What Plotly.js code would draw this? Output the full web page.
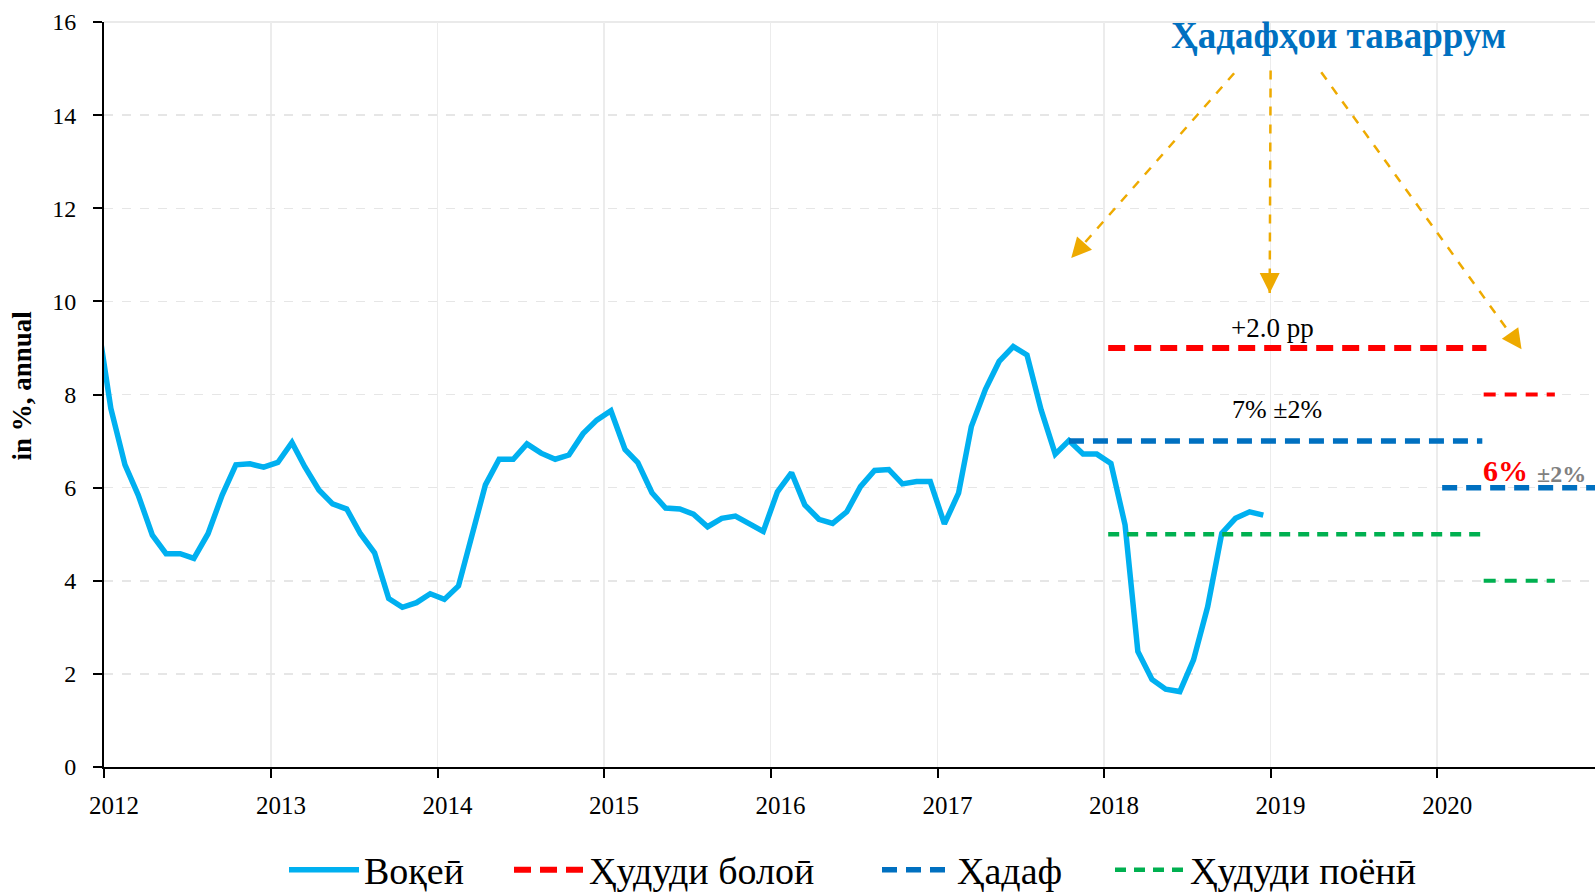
<!DOCTYPE html>
<html>
<head>
<meta charset="utf-8">
<script src="https://cdn.plot.ly/plotly-3.0.1.min.js"></script>
<style>html,body{margin:0;padding:0;background:#fff;}#chart{width:1595px;height:892px;}</style>
</head>
<body>
<div id="chart"></div>
<script>
// ---- data (monthly CPI inflation, % y/y) ----
const startYear = 2011, startMonth = 12;           // first observation: Dec 2011 (clipped by the axis)
const actualDec2011 = [9.7];
const actual2012 = [7.70, 6.49, 5.84, 4.98, 4.58, 4.58, 4.48, 5.01, 5.84, 6.49, 6.51, 6.44];
const actual2013 = [6.54, 6.97, 6.45, 5.95, 5.65, 5.54, 5.01, 4.60, 3.62, 3.43, 3.53, 3.72];
const actual2014 = [3.60, 3.89, 4.88, 6.06, 6.61, 6.61, 6.94, 6.74, 6.61, 6.70, 7.16, 7.45];
const actual2015 = [7.65, 6.82, 6.54, 5.89, 5.56, 5.54, 5.43, 5.16, 5.34, 5.39, 5.22, 5.06];
const actual2016 = [5.91, 6.32, 5.63, 5.32, 5.23, 5.48, 6.02, 6.37, 6.39, 6.08, 6.13, 6.13];
const actual2017 = [5.22, 5.88, 7.31, 8.11, 8.71, 9.03, 8.85, 7.67, 6.72, 7.01, 6.72, 6.72];
const actual2018 = [6.52, 5.20, 2.48, 1.88, 1.67, 1.62, 2.30, 3.44, 5.02, 5.34, 5.48, 5.41];

// target corridor segments
const upperX   = ['2018-01-10', '2020-04-18'], upperY   = [9, 9];
const upper2X  = ['2020-04-12', '2020-09-15'], upper2Y  = [8, 8];
const targetX  = ['2017-10-16', '2020-04-09'], targetY  = [7, 7];
const target2X = ['2020-01-12', '2021-01-31'], target2Y = [6, 6];
const lowerX   = ['2018-01-10', '2020-04-20'], lowerY   = [5, 5];
const lower2X  = ['2020-04-12', '2020-09-15'], lower2Y  = [4, 4];

const seriesNames = ['Воқеӣ', 'Ҳудуди болоӣ', 'Ҳадаф', 'Ҳудуди поёнӣ'];
const yTitle = 'in %, annual';
const headline = 'Ҳадафҳои таваррум';
const labelUpper = '+2.0 pp';
const labelTarget = '7% ±2%';
const labelNew = '6%';
const labelNewBand = '±2%';

// ---- build ----
const actualY = [].concat(actualDec2011, actual2012, actual2013, actual2014, actual2015, actual2016, actual2017, actual2018);
const actualX = actualY.map((v, i) => {
  const m0 = (startMonth - 1) + i;
  const y = startYear + Math.floor(m0 / 12);
  const m = (m0 % 12) + 1;
  return y + '-' + String(m).padStart(2, '0') + '-16';
});

const FONT = 'Liberation Serif, Times New Roman, serif';
const RED = '#FF0000', BLUE = '#0070C0', GREEN = '#00B050', CYAN = '#00B0F0', GOLD = '#EEAA00';

const traces = [
  {x: actualX, y: actualY, name: seriesNames[0], mode: 'lines', legend: 'legend', line: {color: CYAN, width: 5.5}},
  {x: upperX, y: upperY, name: seriesNames[1], mode: 'lines', legend: 'legend2', line: {color: RED, width: 6, dash: '17px,9px'}},
  {x: targetX, y: targetY, name: seriesNames[2], mode: 'lines', legend: 'legend3', line: {color: BLUE, width: 5.5, dash: '15px,9px'}},
  {x: lowerX, y: lowerY, name: seriesNames[3], mode: 'lines', legend: 'legend4', line: {color: GREEN, width: 4.5, dash: '11px,8px'}},
  {x: upper2X, y: upper2Y, showlegend: false, mode: 'lines', line: {color: RED, width: 4, dash: '12px,9px'}},
  {x: target2X, y: target2Y, showlegend: false, mode: 'lines', line: {color: BLUE, width: 5.5, dash: '15px,9px'}},
  {x: lower2X, y: lower2Y, showlegend: false, mode: 'lines', line: {color: GREEN, width: 4, dash: '12px,9px'}}
];

// arrows (tail -> tip) in data coordinates
const arrows = [
  {x0: '2018-10-13', y0: 14.90, x1: '2017-10-21', y1: 10.93, ax: 8, ay: -9},
  {x0: '2019-01-01', y0: 14.96, x1: '2018-12-30', y1: 10.18, ax: 0, ay: -12},
  {x0: '2019-04-22', y0: 14.92, x1: '2020-07-04', y1: 8.97, ax: -7, ay: -10}
];

const shapes = arrows.map(a => ({
  type: 'line', xref: 'x', yref: 'y', x0: a.x0, y0: a.y0, x1: a.x1, y1: a.y1,
  line: {color: GOLD, width: 2.5, dash: 'dash'}
}));
shapes.push({type: 'line', xref: 'paper', yref: 'paper', x0: 0, x1: 1, y0: 1, y1: 1, line: {color: '#eaeaea', width: 2}, layer: 'below'});

const annotations = arrows.map(a => ({
  x: a.x1, y: a.y1, xref: 'x', yref: 'y', text: '', showarrow: true,
  ax: a.ax, ay: a.ay, arrowhead: 2, arrowsize: 1.6, arrowwidth: 2.5, arrowcolor: GOLD, standoff: 0
}));
annotations.push(
  {x: '2019-05-29', y: 15.7, xref: 'x', yref: 'y', text: '<b>' + headline + '</b>', showarrow: false,
   font: {family: FONT, size: 37, color: BLUE}, xanchor: 'center', yanchor: 'middle'},
  {x: '2019-01-06', y: 9.43, xref: 'x', yref: 'y', text: labelUpper, showarrow: false,
   font: {family: FONT, size: 27, color: '#000'}, xanchor: 'center', yanchor: 'middle'},
  {x: '2019-01-15', y: 7.67, xref: 'x', yref: 'y', text: labelTarget, showarrow: false,
   font: {family: FONT, size: 26, color: '#000'}, xanchor: 'center', yanchor: 'middle'},
  {x: '2020-05-30', y: 6.36, xref: 'x', yref: 'y', text: '<b>' + labelNew + '</b>', showarrow: false,
   font: {family: FONT, size: 30, color: RED}, xanchor: 'center', yanchor: 'middle'},
  {x: '2020-09-29', y: 6.29, xref: 'x', yref: 'y', text: '<b>' + labelNewBand + '</b>', showarrow: false,
   font: {family: FONT, size: 24, color: '#808080'}, xanchor: 'center', yanchor: 'middle'},
  {x: -0.055, y: 0.512, xref: 'paper', yref: 'paper', text: '<b>' + yTitle + '</b>', showarrow: false, textangle: -90,
   font: {family: FONT, size: 27, color: '#000'}, xanchor: 'center', yanchor: 'middle'}
);

const legendBase = {orientation: 'h', xref: 'container', yref: 'container', y: 0.0247, xanchor: 'left', yanchor: 'middle',
  font: {family: FONT, size: 38, color: '#000'}, itemwidth: 70, bgcolor: 'rgba(0,0,0,0)'};
const legendStarts = [284, 509, 877, 1110];

const layout = {
  width: 1595, height: 892,
  margin: {l: 104, r: 0, t: 22, b: 125, autoexpand: false},
  paper_bgcolor: '#fff', plot_bgcolor: '#fff',
  font: {family: FONT, color: '#000'},
  showlegend: true,
  legend:  Object.assign({}, legendBase, {x: legendStarts[0] / 1595}),
  legend2: Object.assign({}, legendBase, {x: legendStarts[1] / 1595}),
  legend3: Object.assign({}, legendBase, {x: legendStarts[2] / 1595}),
  legend4: Object.assign({}, legendBase, {x: legendStarts[3] / 1595}),
  xaxis: {
    type: 'date', range: ['2012-01-01', '2020-12-12'], tick0: '2012-01-01', dtick: 'M12', tickformat: '%Y',
    showgrid: true, gridcolor: '#ececec', gridwidth: 1.5, zeroline: false,
    showline: true, linecolor: '#000', linewidth: 2,
    ticks: 'outside', ticklen: 9, tickwidth: 2, tickcolor: '#000',
    tickfont: {family: FONT, size: 25, color: '#000'}, ticklabelshift: 10, ticklabelstandoff: 6
  },
  yaxis: {
    range: [0, 16], dtick: 2, tick0: 0,
    showgrid: true, gridcolor: '#e6e6e6', gridwidth: 1.5, griddash: 'dash', zeroline: false,
    showline: true, linecolor: '#000', linewidth: 2,
    ticks: 'outside', ticklen: 9, tickwidth: 2, tickcolor: '#000',
    tickfont: {family: FONT, size: 24, color: '#000'}, ticklabelstandoff: 12
  },
  shapes: shapes,
  annotations: annotations
};

Plotly.newPlot('chart', traces, layout, {displayModeBar: false, staticPlot: true});
</script>
</body>
</html>
